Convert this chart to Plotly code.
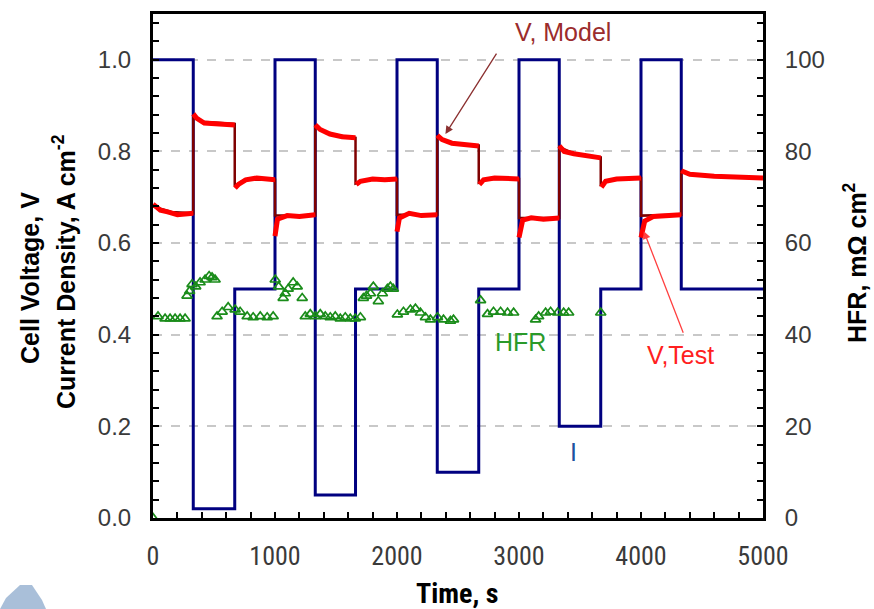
import plotly.graph_objects as go

# ---------------- data ----------------
t_I = [0, 330, 670, 1000, 1330, 1660, 2000, 2330, 2670, 3000, 3330, 3670, 4000, 4330, 5000]
I_val = [1.0, 0.02, 0.5, 1.0, 0.05, 0.5, 1.0, 0.1, 0.5, 1.0, 0.2, 0.5, 1.0, 0.5, 0.5]

t_model = [0, 150, 330, 330, 400, 670, 670, 750, 1000, 1000, 1330, 1330, 1450, 1660, 1660, 1750,
           2000, 2000, 2330, 2330, 2450, 2670, 2670, 2750, 3000, 3000, 3330, 3330, 3450, 3670,
           3670, 3750, 4000, 4000, 4330, 4330, 4450, 5000]
v_model = [0.680, 0.668, 0.665, 0.875, 0.865, 0.860, 0.725, 0.738, 0.738, 0.660, 0.660, 0.855, 0.838, 0.830, 0.730, 0.738,
           0.740, 0.662, 0.662, 0.832, 0.818, 0.813, 0.732, 0.740, 0.740, 0.655, 0.655, 0.810, 0.795, 0.787,
           0.728, 0.738, 0.742, 0.660, 0.662, 0.756, 0.748, 0.742]

t_test = [0, 60, 120, 200, 330, None,
          330, 360, 420, 520, 670, None,
          672, 700, 760, 850, 1000, None,
          1000, 1020, 1100, 1200, 1330, None,
          1330, 1370, 1450, 1550, 1660, None,
          1665, 1700, 1800, 1900, 2000, None,
          2000, 2020, 2100, 2200, 2330, None,
          2330, 2370, 2450, 2550, 2670, None,
          2675, 2710, 2800, 2900, 3000, None,
          3000, 3030, 3100, 3200, 3330, None,
          3330, 3370, 3450, 3550, 3670, None,
          3675, 3710, 3800, 3900, 4000, None,
          4000, 4030, 4100, 4200, 4330, None,
          4330, 4400, 4600, 4800, 5000]
v_test = [0.685, 0.672, 0.668, 0.662, 0.665, None,
          0.882, 0.872, 0.862, 0.860, 0.858, None,
          0.720, 0.728, 0.738, 0.742, 0.738, None,
          0.615, 0.652, 0.660, 0.658, 0.662, None,
          0.858, 0.848, 0.838, 0.832, 0.830, None,
          0.728, 0.735, 0.740, 0.738, 0.740, None,
          0.625, 0.655, 0.665, 0.660, 0.662, None,
          0.835, 0.826, 0.818, 0.815, 0.812, None,
          0.728, 0.738, 0.742, 0.740, 0.740, None,
          0.612, 0.650, 0.655, 0.652, 0.655, None,
          0.812, 0.800, 0.795, 0.790, 0.786, None,
          0.722, 0.735, 0.740, 0.740, 0.742, None,
          0.612, 0.648, 0.658, 0.660, 0.662, None,
          0.758, 0.750, 0.746, 0.744, 0.742]

t_hfr = [0, 41, 99, 140, 181, 222, 263,
         279, 300, 320, 350, 386, 427, 460, 484, 509,
         525, 567, 616, 673, 714, 772, 821, 879, 936, 985,
         1002, 1030, 1067, 1084, 1108, 1149, 1182, 1223,
         1248, 1289, 1330, 1371, 1412, 1453, 1494, 1535, 1576, 1617, 1658, 1700,
         1724, 1750, 1782, 1806, 1847, 1880, 1921, 1946, 1970,
         2003, 2053, 2110, 2151, 2192, 2233, 2274, 2332, 2381, 2438, 2463,
         2685, 2742, 2791, 2849, 2906, 2956,
         3136, 3161, 3218, 3259, 3317, 3366, 3407,
         3670]
hfr = [0, 44, 43.5, 43.5, 43.5, 43.5, 43.5,
       48.5, 49.5, 51, 50.5, 51.4, 52, 52.8, 52.5, 52,
       44, 45, 46, 45.5, 45, 44, 43.8, 44, 43.8, 44,
       52, 50.5, 48, 49, 50, 51.4, 50.5, 48,
       44, 44.5, 44, 44.5, 44, 43.8, 44, 43.5, 43.8, 43.5, 43.5, 43.8,
       48, 48.5, 49, 50.5, 47.3, 49, 50, 50.5, 50,
       44.4, 45, 45.5, 45.7, 44.8, 43.8, 43.3, 43.8, 43.3, 43, 43.3,
       47.5, 44.5, 45, 45, 44.8, 44.8,
       43.3, 44, 44.8, 45, 44.8, 44.8, 44.8,
       44.8]

x_ticks = [0, 1000, 2000, 3000, 4000, 5000]
y_ticks = [0.0, 0.2, 0.4, 0.6, 0.8, 1.0]
y_ticklabels = ["0.0", "0.2", "0.4", "0.6", "0.8", "1.0"]
y2_ticks = [0, 20, 40, 60, 80, 100]

# ---------------- layout helpers ----------------
W, H = 874, 609
L, R, T, B = 153, 111, 14, 91
pw, ph = W - L - R, H - T - B


def px(x):
    return (x - L) / pw


def py(y):
    return (H - B - y) / ph


fig = go.Figure()

fig.add_trace(go.Scatter(x=t_I, y=I_val, mode="lines", line=dict(color="#000080", width=3, shape="hv"),
                         name="I", showlegend=False))
fig.add_trace(go.Scatter(x=t_model, y=v_model, mode="lines", line=dict(color="#7f0000", width=2.5),
                         name="V, Model", showlegend=False))
fig.add_trace(go.Scatter(x=t_test, y=v_test, mode="lines", line=dict(color="#ff0000", width=5),
                         connectgaps=False, name="V,Test", showlegend=False))
fig.add_trace(go.Scatter(x=t_hfr, y=hfr, mode="markers", yaxis="y2",
                         marker=dict(symbol="triangle-up-open", size=9, color="#1a8c1a",
                                     line=dict(width=1.7, color="#1a8c1a")),
                         name="HFR", showlegend=False))

tickfont = dict(family="Liberation Sans, Arial, sans-serif", size=24, color="#3a3a3a")
narrow = "Liberation Sans Narrow, Roboto Condensed, Liberation Sans"

fig.update_layout(
    width=W, height=H,
    margin=dict(l=L, r=R, t=T, b=B, pad=0),
    paper_bgcolor="white", plot_bgcolor="white",
    xaxis=dict(range=[0, 5000], tickvals=x_ticks, ticks="inside", ticklen=6, tickwidth=2,
               tickcolor="black", showline=True, linecolor="black", linewidth=3, mirror=True,
               showgrid=False, zeroline=False,
               minor=dict(ticks="inside", dtick=200, ticklen=6, tickwidth=2, tickcolor="black", showgrid=False),
               tickfont=dict(family=narrow, size=26, color="#3a3a3a"),
               ticklabelstandoff=13),
    yaxis=dict(range=[0, 1.1], tickvals=y_ticks, ticktext=y_ticklabels, ticks="inside", ticklen=6,
               tickwidth=2, tickcolor="black", showline=True, linecolor="black", linewidth=3,
               showgrid=True, gridcolor="#c8c8c8", gridwidth=2, griddash="dash", zeroline=False,
               minor=dict(ticks="inside", dtick=0.04, tick0=0, ticklen=6, tickwidth=2, tickcolor="black", showgrid=False),
               tickfont=tickfont, ticklabelstandoff=14),
    yaxis2=dict(range=[0, 110], tickvals=y2_ticks, overlaying="y", side="right", ticks="inside",
                ticklen=6, tickwidth=2, tickcolor="black", showline=True, linecolor="black", linewidth=3,
                showgrid=False, zeroline=False,
                minor=dict(ticks="inside", dtick=4, tick0=0, ticklen=6, tickwidth=2, tickcolor="black", showgrid=False),
                tickfont=tickfont, ticklabelstandoff=14),
)

bold = dict(family="Liberation Sans, Arial, sans-serif", size=25, color="black")
annos = [
    dict(text="<b>Cell Voltage, V</b>", x=px(30), y=py(278), textangle=-90, font=bold),
    dict(text="<b>Current Density, A cm<sup>-2</sup></b>", x=px(64), y=py(272), textangle=-90, font=bold),
    dict(text="<b>HFR, mΩ cm<sup>2</sup></b>", x=px(855), y=py(262), textangle=-90, font=bold),
    dict(text="<b>Time, s</b>", x=px(457), y=py(593),
         font=dict(family=narrow, size=28, color="black")),
]
for a in annos:
    fig.add_annotation(xref="paper", yref="paper", showarrow=False, xanchor="center", yanchor="middle", **a)

labelfont = dict(family="Liberation Sans, Arial, sans-serif", size=25)
fig.add_annotation(xref="paper", yref="paper", x=px(563), y=py(32), text="V, Model", showarrow=False,
                   font=dict(labelfont, color="#9b2c2c"), xanchor="center", yanchor="middle")
fig.add_annotation(xref="paper", yref="paper", x=px(680), y=py(355), text="V,Test", showarrow=False,
                   font=dict(labelfont, color="#ff2020"), xanchor="center", yanchor="middle")
fig.add_annotation(xref="paper", yref="paper", x=px(520), y=py(342), text="HFR", showarrow=False,
                   font=dict(labelfont, color="#2a9a2a"), xanchor="center", yanchor="middle")
fig.add_annotation(xref="paper", yref="paper", x=px(573), y=py(452), text="I", showarrow=False,
                   font=dict(labelfont, color="#2050a0"), xanchor="center", yanchor="middle")

# arrows (head at data point, tail offset in pixels)
fig.add_annotation(x=2397, y=0.838, xref="x", yref="y", ax=52, ay=-82,
                   text="", showarrow=True, arrowhead=2, arrowsize=1.2, arrowwidth=1.3, arrowcolor="#8b3030")
fig.add_annotation(x=4023, y=0.626, xref="x", yref="y", ax=40, ay=103,
                   text="", showarrow=True, arrowhead=2, arrowsize=1.2, arrowwidth=1.3, arrowcolor="#ff4040")

# decorative corner shape
pts = [(0, 609), (6, 598), (20, 585), (32, 585), (42, 600), (46, 609)]
path = "M " + " L ".join(f"{px(a):.4f},{py(b):.4f}" for a, b in pts) + " Z"
fig.add_shape(type="path", path=path, xref="paper", yref="paper", fillcolor="#a9bfd9",
              line=dict(width=0), layer="above")

fig.write_html("out.html")
